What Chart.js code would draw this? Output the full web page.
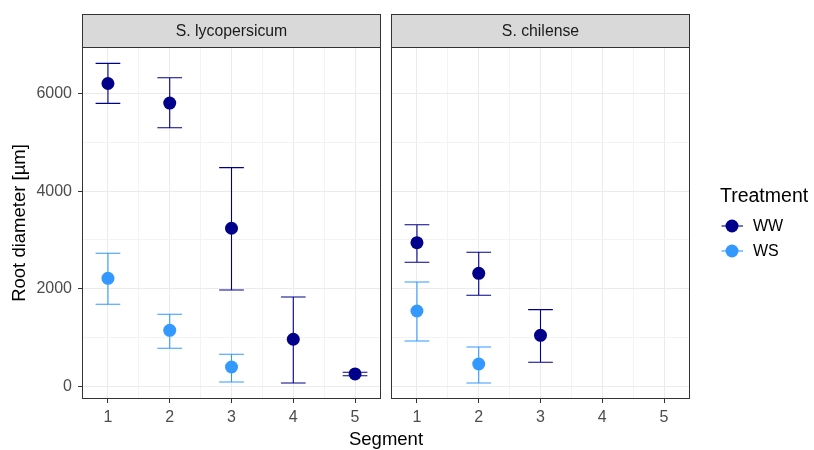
<!DOCTYPE html>
<html>
<head>
<meta charset="utf-8">
<script src="https://cdn.jsdelivr.net/npm/chart.js@4"></script>
<style>
  html, body { margin: 0; padding: 0; background: #ffffff; }
  #wrap { position: relative; width: 814px; height: 450px; }
  #wrap canvas { position: absolute; left: 0; top: 0; }
</style>
</head>
<body>
<div id="wrap">
  <canvas id="lyco" width="814" height="450"></canvas>
  <canvas id="chil" width="814" height="450"></canvas>
</div>
<script>
// x categories and tick labels
const segments = [1, 2, 3, 4, 5];
const xMajor = [1, 2, 3, 4, 5];
const xMinor = [1.5, 2.5, 3.5, 4.5];
const yMajor = [0, 2000, 4000, 6000];
const yMinor = [1000, 3000, 5000];
const treatments = ['WW', 'WS'];

// S. lycopersicum
const lycoWW = [6200, 5800, 3240, 970, 260];
const lycoWWLow = [5795, 5297, 1978, 76, 225];
const lycoWWHigh = [6613, 6319, 4479, 1834, 294];
const lycoWS = [2216, 1153, 403];
const lycoWSLow = [1685, 785, 96];
const lycoWSHigh = [2728, 1480, 662];

// S. chilense
const chilWW = [2945, 2319, 1051];
const chilWWLow = [2544, 1869, 499];
const chilWWHigh = [3313, 2748, 1575];
const chilWS = [1548, 464];
const chilWSLow = [935, 76];
const chilWSHigh = [2141, 812];

const colWW = '#00008B';
const colWS = '#3399FF';
const FONT = '"Liberation Sans", Arial, sans-serif';

const isIn = (arr, v) => arr.some(a => Math.abs(a - v) < 1e-6);

function points(ys) {
  return ys.map((y, i) => ({ x: segments[i], y }));
}

const facetPlugin = {
  id: 'facet',
  beforeDatasetsDraw(chart) {
    const ctx = chart.ctx;
    const xs = chart.scales.x, ys = chart.scales.y;
    ctx.save();
    chart.data.datasets.forEach(ds => {
      ctx.strokeStyle = ds.backgroundColor;
      ctx.lineWidth = 1.1;
      ds.low.forEach((lo, i) => {
        const hi = ds.high[i];
        const x = xs.getPixelForValue(segments[i]);
        const xl = xs.getPixelForValue(segments[i] - 0.2);
        const xr = xs.getPixelForValue(segments[i] + 0.2);
        const yl = ys.getPixelForValue(lo), yh = ys.getPixelForValue(hi);
        ctx.beginPath();
        ctx.moveTo(x, yl); ctx.lineTo(x, yh);
        ctx.moveTo(xl, yl); ctx.lineTo(xr, yl);
        ctx.moveTo(xl, yh); ctx.lineTo(xr, yh);
        ctx.stroke();
      });
    });
    ctx.restore();
  },
  afterDraw(chart, args, opts) {
    const ctx = chart.ctx;
    const a = chart.chartArea;
    ctx.save();
    // panel border
    ctx.strokeStyle = '#333333';
    ctx.lineWidth = 1;
    ctx.strokeRect(Math.round(a.left) + 0.5, Math.round(a.top) + 0.5,
      Math.round(a.right - a.left) - 1, Math.round(a.bottom - a.top) - 1);
    // strip
    ctx.fillStyle = '#D9D9D9';
    ctx.fillRect(Math.round(a.left) + 0.5, 14.5, Math.round(a.right - a.left) - 1, Math.round(a.top) - 14);
    ctx.strokeRect(Math.round(a.left) + 0.5, 14.5, Math.round(a.right - a.left) - 1, Math.round(a.top) - 14);
    ctx.fillStyle = '#1A1A1A';
    ctx.font = '15.8px ' + FONT;
    ctx.textAlign = 'center';
    ctx.textBaseline = 'middle';
    ctx.fillText(opts.title, (a.left + a.right) / 2, 32);

    if (opts.decor) {
      // axis titles
      ctx.fillStyle = '#000000';
      ctx.font = '18.5px ' + FONT;
      ctx.textBaseline = 'alphabetic';
      ctx.fillText('Segment', 386, 445);
      ctx.save();
      ctx.translate(25, 223);
      ctx.rotate(-Math.PI / 2);
      ctx.fillText('Root diameter [µm]', 0, 0);
      ctx.restore();
      // legend
      ctx.textAlign = 'left';
      ctx.font = '19.5px ' + FONT;
      ctx.fillText('Treatment', 720, 202);
      const cols = [colWW, colWS];
      ctx.font = '16px ' + FONT;
      ctx.textBaseline = 'middle';
      treatments.forEach((t, i) => {
        const y = 226 + i * 25;
        ctx.strokeStyle = cols[i];
        ctx.lineWidth = 1.1;
        ctx.beginPath();
        ctx.moveTo(721.5, y); ctx.lineTo(743, y);
        ctx.stroke();
        ctx.fillStyle = cols[i];
        ctx.beginPath();
        ctx.arc(732, y, 6.5, 0, Math.PI * 2);
        ctx.fill();
        ctx.fillStyle = '#000000';
        ctx.fillText(t, 753, y + 1);
      });
    }
    ctx.restore();
  }
};

function makePanel(id, title, ww, wwLo, wwHi, ws, wsLo, wsHi, left) {
  const padLeft = left ? 0 : 391;
  const padRight = left ? 814 - 381 : 814 - 690;
  return new Chart(document.getElementById(id), {
    type: 'scatter',
    data: {
      datasets: [
        { label: 'WW', data: points(ww), low: wwLo, high: wwHi, backgroundColor: colWW },
        { label: 'WS', data: points(ws), low: wsLo, high: wsHi, backgroundColor: colWS }
      ]
    },
    options: {
      responsive: false,
      animation: false,
      devicePixelRatio: 1,
      layout: { padding: { left: padLeft, right: padRight, top: 47, bottom: 21 } },
      elements: { point: { radius: 6.5, borderWidth: 0, hoverRadius: 6.5 } },
      plugins: {
        legend: { display: false },
        tooltip: { enabled: false },
        facet: { title, decor: left }
      },
      scales: {
        x: {
          type: 'linear',
          min: 0.58, max: 5.42,
          afterBuildTicks: s => { s.ticks = [...xMajor, ...xMinor].sort((p, q) => p - q).map(v => ({ value: v })); },
          afterFit: s => { s.height = 30; },
          border: { display: false },
          grid: {
            color: c => isIn(xMajor, c.tick.value) ? '#EBEBEB' : '#F3F3F3',
            lineWidth: 1,
            tickLength: 4,
            tickColor: c => isIn(xMajor, c.tick.value) ? '#333333' : 'rgba(0,0,0,0)'
          },
          ticks: {
            autoSkip: false, maxRotation: 0, padding: 5,
            color: '#4D4D4D', font: { family: FONT, size: 16 },
            callback: v => isIn(xMajor, v) ? String(v) : ''
          }
        },
        y: {
          min: -252, max: 6947,
          afterBuildTicks: s => { s.ticks = [...yMajor, ...yMinor].sort((p, q) => p - q).map(v => ({ value: v })); },
          afterFit: s => { s.width = left ? 82 : 0; },
          border: { display: false },
          grid: {
            color: c => isIn(yMajor, c.tick.value) ? '#EBEBEB' : '#F3F3F3',
            lineWidth: 1,
            drawTicks: left,
            tickLength: left ? 4 : 0,
            tickColor: c => isIn(yMajor, c.tick.value) ? '#333333' : 'rgba(0,0,0,0)'
          },
          ticks: {
            display: left, autoSkip: false, padding: 6,
            color: '#4D4D4D', font: { family: FONT, size: 16 },
            callback: v => isIn(yMajor, v) ? String(v) : ''
          }
        }
      }
    },
    plugins: [facetPlugin]
  });
}

makePanel('lyco', 'S. lycopersicum', lycoWW, lycoWWLow, lycoWWHigh, lycoWS, lycoWSLow, lycoWSHigh, true);
makePanel('chil', 'S. chilense', chilWW, chilWWLow, chilWWHigh, chilWS, chilWSLow, chilWSHigh, false);
</script>
</body>
</html>
